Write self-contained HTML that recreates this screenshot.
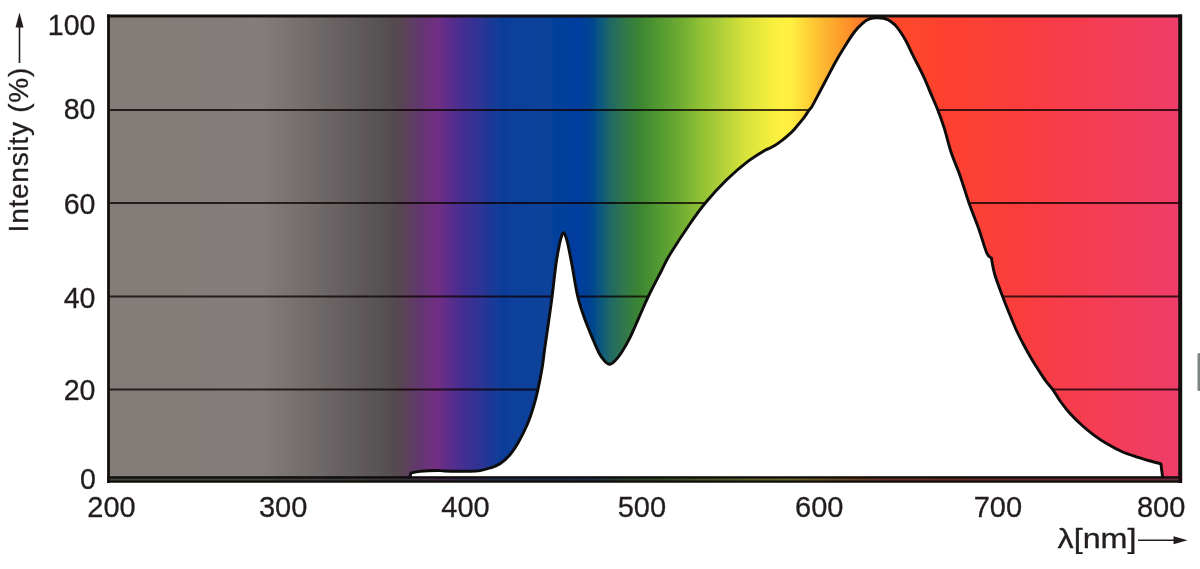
<!DOCTYPE html>
<html><head><meta charset="utf-8"><title>Spectrum</title>
<style>
html,body{margin:0;padding:0;background:#fff;}
body{width:1200px;height:569px;overflow:hidden;font-family:"Liberation Sans",sans-serif;}
svg{display:block;}
text{font-family:"Liberation Sans",sans-serif;fill:#231f20;stroke:#231f20;stroke-width:0.3px;}
</style></head><body>
<svg width="1200" height="569" viewBox="0 0 1200 569">
<defs>
<linearGradient id="sp" gradientUnits="userSpaceOnUse" x1="108.5" y1="0" x2="1180.0" y2="0"><stop offset="0.0014" stop-color="#837d79"/><stop offset="0.1414" stop-color="#837d7b"/><stop offset="0.1974" stop-color="#6e6868"/><stop offset="0.2347" stop-color="#5f595b"/><stop offset="0.2627" stop-color="#534e50"/><stop offset="0.2720" stop-color="#594751"/><stop offset="0.2907" stop-color="#633670"/><stop offset="0.3066" stop-color="#722e85"/><stop offset="0.3187" stop-color="#5a2d8c"/><stop offset="0.3374" stop-color="#3a3094"/><stop offset="0.3495" stop-color="#2a3594"/><stop offset="0.3626" stop-color="#123c99"/><stop offset="0.3840" stop-color="#0a419b"/><stop offset="0.4120" stop-color="#07429b"/><stop offset="0.4382" stop-color="#013d9e"/><stop offset="0.4512" stop-color="#02458f"/><stop offset="0.4606" stop-color="#0d5b7c"/><stop offset="0.4671" stop-color="#206668"/><stop offset="0.4792" stop-color="#2f7550"/><stop offset="0.4942" stop-color="#3a8433"/><stop offset="0.5147" stop-color="#539b32"/><stop offset="0.5334" stop-color="#6fab33"/><stop offset="0.5520" stop-color="#8fc034"/><stop offset="0.5679" stop-color="#a8cc38"/><stop offset="0.5922" stop-color="#d4e03a"/><stop offset="0.6174" stop-color="#f4ee3e"/><stop offset="0.6286" stop-color="#fff040"/><stop offset="0.6370" stop-color="#fff040"/><stop offset="0.6491" stop-color="#ffd838"/><stop offset="0.6668" stop-color="#fcb830"/><stop offset="0.6902" stop-color="#fd922a"/><stop offset="0.7107" stop-color="#fe6a2b"/><stop offset="0.7294" stop-color="#ff4c2c"/><stop offset="0.7434" stop-color="#ff482c"/><stop offset="0.7853" stop-color="#fc4030"/><stop offset="0.8507" stop-color="#f93e3e"/><stop offset="0.9253" stop-color="#f53d55"/><stop offset="0.9981" stop-color="#ee3c68"/></linearGradient>
<filter id="soft" x="0" y="0" width="1200" height="569" filterUnits="userSpaceOnUse"><feGaussianBlur stdDeviation="0.45"/></filter>
</defs>
<rect x="0" y="0" width="1200" height="569" fill="#ffffff"/>
<g filter="url(#soft)">
<rect x="108.5" y="16" width="1071.5" height="465.7" fill="url(#sp)"/>
<g stroke="#0a0000" stroke-width="2" stroke-opacity="0.76">
<line x1="109" x2="1180" y1="110" y2="110"/>
<line x1="109" x2="1180" y1="203" y2="203"/>
<line x1="109" x2="1180" y1="296.6" y2="296.6"/>
<line x1="109" x2="1180" y1="389.6" y2="389.6"/>
</g>
<path d="M410,476.8 C410.17,476.17 410.83,473.63 411,473 C412.50,472.73 415.67,471.82 420,471.4 C424.33,470.98 432.83,470.57 437,470.5 C441.17,470.43 439.50,470.87 445,471 C450.50,471.13 464.17,471.37 470,471.3 C475.83,471.23 476.67,471.15 480,470.6 C483.33,470.05 486.67,469.15 490,468 C493.33,466.85 496.67,465.92 500,463.7 C503.33,461.48 507.00,458.15 510,454.7 C513.00,451.25 515.08,448.12 518,443 C520.92,437.88 524.90,430.10 527.5,424 C530.10,417.90 531.87,412.13 533.6,406.4 C535.33,400.67 536.47,396.10 537.9,389.6 C539.33,383.10 541.05,374.33 542.2,367.4 C543.35,360.47 543.67,356.07 544.8,348 C545.93,339.93 547.78,327.57 549,319 C550.22,310.43 550.93,305.77 552.1,296.6 C553.27,287.43 554.77,272.77 556,264 C557.23,255.23 558.50,248.83 559.5,244 C560.50,239.17 561.32,236.90 562,235 C562.68,233.10 563.07,232.60 563.6,232.6 C564.13,232.60 564.50,233.10 565.2,235 C565.90,236.90 566.70,239.17 567.8,244 C568.90,248.83 570.15,255.25 571.8,264 C573.45,272.75 575.58,287.45 577.7,296.5 C579.82,305.55 582.08,311.45 584.5,318.3 C586.92,325.15 589.78,331.82 592.2,337.6 C594.62,343.38 596.93,349.10 599,353 C601.07,356.90 602.83,359.12 604.6,361 C606.37,362.88 607.90,364.30 609.6,364.3 C611.30,364.30 612.87,362.88 614.8,361 C616.73,359.12 618.67,356.90 621.2,353 C623.73,349.10 627.10,343.38 630,337.6 C632.90,331.82 635.55,325.15 638.6,318.3 C641.65,311.45 644.43,304.55 648.3,296.5 C652.17,288.45 658.20,276.98 661.8,270 C665.40,263.02 665.32,262.15 669.9,254.6 C674.48,247.05 683.40,233.30 689.3,224.7 C695.20,216.10 699.07,210.48 705.3,203 C711.53,195.52 719.65,186.68 726.7,179.8 C733.75,172.92 741.20,166.62 747.6,161.7 C754.00,156.78 760.87,152.82 765.1,150.3 C769.33,147.78 770.07,148.35 773,146.6 C775.93,144.85 779.62,142.20 782.7,139.8 C785.78,137.40 789.55,133.97 791.5,132.2 C793.45,130.43 792.45,131.45 794.4,129.2 C796.35,126.95 800.78,121.85 803.2,118.7 C805.62,115.55 807.43,112.35 808.9,110.3 C810.37,108.25 810.32,109.25 812,106.4 C813.68,103.55 816.67,97.60 819,93.2 C821.33,88.80 823.32,85.08 826,80 C828.68,74.92 832.18,67.95 835.1,62.7 C838.02,57.45 840.35,53.53 843.5,48.5 C846.65,43.47 850.83,36.68 854,32.5 C857.17,28.32 859.92,25.67 862.5,23.4 C865.08,21.13 866.92,19.83 869.5,18.9 C872.08,17.97 874.95,17.68 878,17.8 C881.05,17.92 885.00,18.43 887.8,19.6 C890.60,20.77 892.80,22.90 894.8,24.8 C896.80,26.70 897.93,28.30 899.8,31 C901.67,33.70 903.85,37.03 906,41 C908.15,44.97 909.82,48.98 912.7,54.8 C915.58,60.62 920.22,69.30 923.3,75.9 C926.38,82.50 928.78,88.72 931.2,94.4 C933.62,100.08 935.60,104.30 937.8,110 C940.00,115.70 942.20,121.60 944.4,128.6 C946.60,135.60 948.35,144.03 951,152 C953.65,159.97 957.30,167.90 960.3,176.4 C963.30,184.90 965.92,194.23 969,203 C972.08,211.77 975.85,220.70 978.8,229 C981.75,237.30 984.60,247.97 986.7,252.8 C988.80,257.63 990.62,257.13 991.4,258 C991.93,260.67 992.70,267.50 994.6,274 C996.50,280.50 1000.58,291.00 1002.8,297 C1005.02,303.00 1005.73,304.67 1007.9,310 C1010.07,315.33 1013.17,323.20 1015.8,329 C1018.43,334.80 1021.07,339.80 1023.7,344.8 C1026.33,349.80 1028.95,354.52 1031.6,359 C1034.25,363.48 1037.12,367.87 1039.6,371.7 C1042.08,375.53 1044.27,378.98 1046.5,382 C1048.73,385.02 1050.78,386.72 1053,389.8 C1055.22,392.88 1057.03,396.63 1059.8,400.5 C1062.57,404.37 1065.92,408.87 1069.6,413 C1073.28,417.13 1077.80,421.58 1081.9,425.3 C1086.00,429.02 1090.02,432.22 1094.2,435.3 C1098.38,438.38 1102.33,441.05 1107,443.8 C1111.67,446.55 1117.32,449.63 1122.2,451.8 C1127.08,453.97 1131.62,455.27 1136.3,456.8 C1140.98,458.33 1146.20,459.83 1150.3,461 C1154.40,462.17 1159.13,463.33 1160.9,463.8 C1161.17,465.95 1162.23,474.55 1162.5,476.7 Z" fill="#ffffff" stroke="none"/>
<rect x="110" y="478" width="1068" height="3.5" fill="#2a2826" opacity="0.7"/>
<path d="M410,476.8 C410.17,476.17 410.83,473.63 411,473 C412.50,472.73 415.67,471.82 420,471.4 C424.33,470.98 432.83,470.57 437,470.5 C441.17,470.43 439.50,470.87 445,471 C450.50,471.13 464.17,471.37 470,471.3 C475.83,471.23 476.67,471.15 480,470.6 C483.33,470.05 486.67,469.15 490,468 C493.33,466.85 496.67,465.92 500,463.7 C503.33,461.48 507.00,458.15 510,454.7 C513.00,451.25 515.08,448.12 518,443 C520.92,437.88 524.90,430.10 527.5,424 C530.10,417.90 531.87,412.13 533.6,406.4 C535.33,400.67 536.47,396.10 537.9,389.6 C539.33,383.10 541.05,374.33 542.2,367.4 C543.35,360.47 543.67,356.07 544.8,348 C545.93,339.93 547.78,327.57 549,319 C550.22,310.43 550.93,305.77 552.1,296.6 C553.27,287.43 554.77,272.77 556,264 C557.23,255.23 558.50,248.83 559.5,244 C560.50,239.17 561.32,236.90 562,235 C562.68,233.10 563.07,232.60 563.6,232.6 C564.13,232.60 564.50,233.10 565.2,235 C565.90,236.90 566.70,239.17 567.8,244 C568.90,248.83 570.15,255.25 571.8,264 C573.45,272.75 575.58,287.45 577.7,296.5 C579.82,305.55 582.08,311.45 584.5,318.3 C586.92,325.15 589.78,331.82 592.2,337.6 C594.62,343.38 596.93,349.10 599,353 C601.07,356.90 602.83,359.12 604.6,361 C606.37,362.88 607.90,364.30 609.6,364.3 C611.30,364.30 612.87,362.88 614.8,361 C616.73,359.12 618.67,356.90 621.2,353 C623.73,349.10 627.10,343.38 630,337.6 C632.90,331.82 635.55,325.15 638.6,318.3 C641.65,311.45 644.43,304.55 648.3,296.5 C652.17,288.45 658.20,276.98 661.8,270 C665.40,263.02 665.32,262.15 669.9,254.6 C674.48,247.05 683.40,233.30 689.3,224.7 C695.20,216.10 699.07,210.48 705.3,203 C711.53,195.52 719.65,186.68 726.7,179.8 C733.75,172.92 741.20,166.62 747.6,161.7 C754.00,156.78 760.87,152.82 765.1,150.3 C769.33,147.78 770.07,148.35 773,146.6 C775.93,144.85 779.62,142.20 782.7,139.8 C785.78,137.40 789.55,133.97 791.5,132.2 C793.45,130.43 792.45,131.45 794.4,129.2 C796.35,126.95 800.78,121.85 803.2,118.7 C805.62,115.55 807.43,112.35 808.9,110.3 C810.37,108.25 810.32,109.25 812,106.4 C813.68,103.55 816.67,97.60 819,93.2 C821.33,88.80 823.32,85.08 826,80 C828.68,74.92 832.18,67.95 835.1,62.7 C838.02,57.45 840.35,53.53 843.5,48.5 C846.65,43.47 850.83,36.68 854,32.5 C857.17,28.32 859.92,25.67 862.5,23.4 C865.08,21.13 866.92,19.83 869.5,18.9 C872.08,17.97 874.95,17.68 878,17.8 C881.05,17.92 885.00,18.43 887.8,19.6 C890.60,20.77 892.80,22.90 894.8,24.8 C896.80,26.70 897.93,28.30 899.8,31 C901.67,33.70 903.85,37.03 906,41 C908.15,44.97 909.82,48.98 912.7,54.8 C915.58,60.62 920.22,69.30 923.3,75.9 C926.38,82.50 928.78,88.72 931.2,94.4 C933.62,100.08 935.60,104.30 937.8,110 C940.00,115.70 942.20,121.60 944.4,128.6 C946.60,135.60 948.35,144.03 951,152 C953.65,159.97 957.30,167.90 960.3,176.4 C963.30,184.90 965.92,194.23 969,203 C972.08,211.77 975.85,220.70 978.8,229 C981.75,237.30 984.60,247.97 986.7,252.8 C988.80,257.63 990.62,257.13 991.4,258 C991.93,260.67 992.70,267.50 994.6,274 C996.50,280.50 1000.58,291.00 1002.8,297 C1005.02,303.00 1005.73,304.67 1007.9,310 C1010.07,315.33 1013.17,323.20 1015.8,329 C1018.43,334.80 1021.07,339.80 1023.7,344.8 C1026.33,349.80 1028.95,354.52 1031.6,359 C1034.25,363.48 1037.12,367.87 1039.6,371.7 C1042.08,375.53 1044.27,378.98 1046.5,382 C1048.73,385.02 1050.78,386.72 1053,389.8 C1055.22,392.88 1057.03,396.63 1059.8,400.5 C1062.57,404.37 1065.92,408.87 1069.6,413 C1073.28,417.13 1077.80,421.58 1081.9,425.3 C1086.00,429.02 1090.02,432.22 1094.2,435.3 C1098.38,438.38 1102.33,441.05 1107,443.8 C1111.67,446.55 1117.32,449.63 1122.2,451.8 C1127.08,453.97 1131.62,455.27 1136.3,456.8 C1140.98,458.33 1146.20,459.83 1150.3,461 C1154.40,462.17 1159.13,463.33 1160.9,463.8 C1161.17,465.95 1162.23,474.55 1162.5,476.7" fill="none" stroke="#0d0a08" stroke-width="2.9" stroke-linejoin="round" stroke-linecap="round"/>
<line x1="107" x2="1182" y1="477.3" y2="477.3" stroke="#0d0a08" stroke-width="2.3"/>
<line x1="107" x2="1182" y1="481.7" y2="481.7" stroke="#0d0a08" stroke-width="2.3"/>
<line x1="107" x2="1182" y1="16" y2="16" stroke="#15110f" stroke-width="3"/>
<line x1="108.5" x2="108.5" y1="14.5" y2="483" stroke="#15110f" stroke-width="2.8"/>
<line x1="1180.2" x2="1180.2" y1="14.5" y2="483" stroke="#15110f" stroke-width="4"/>
<rect x="1197.5" y="353" width="6" height="38" rx="1.5" fill="#7d837f"/>
<g font-size="28.6" text-anchor="end">
<text x="95.5" y="35.4">100</text>
<text x="95.5" y="119">80</text>
<text x="95.5" y="214.2">60</text>
<text x="95.5" y="308.3">40</text>
<text x="95.5" y="399.5">20</text>
<text x="96" y="488.9">0</text>
</g>
<g font-size="29" text-anchor="middle">
<text x="111.5" y="516.6">200</text>
<text x="283.1" y="516.6">300</text>
<text x="465.5" y="516.6">400</text>
<text x="641.9" y="516.6">500</text>
<text x="819.2" y="516.6">600</text>
<text x="997.9" y="516.6">700</text>
<text x="1161.1" y="516.6">800</text>
</g>
<text x="1057.5" y="547.6" font-size="28" textLength="79" lengthAdjust="spacingAndGlyphs">λ[nm]</text>
<line x1="1138" x2="1176" y1="540.2" y2="540.2" stroke="#231f20" stroke-width="1.6"/>
<path d="M1187.5,540.2 L1173.5,536.2 L1173.5,544.2 Z" fill="#231f20"/>
<text transform="translate(27.6,232.4) rotate(-90)" font-size="28" letter-spacing="0.75">Intensity (%)</text>
<line x1="19.5" x2="19.5" y1="63" y2="26" stroke="#231f20" stroke-width="1.6"/>
<path d="M19.5,12.5 L15.5,27.5 L23.5,27.5 Z" fill="#231f20"/>
</g>
</svg>
</body></html>
